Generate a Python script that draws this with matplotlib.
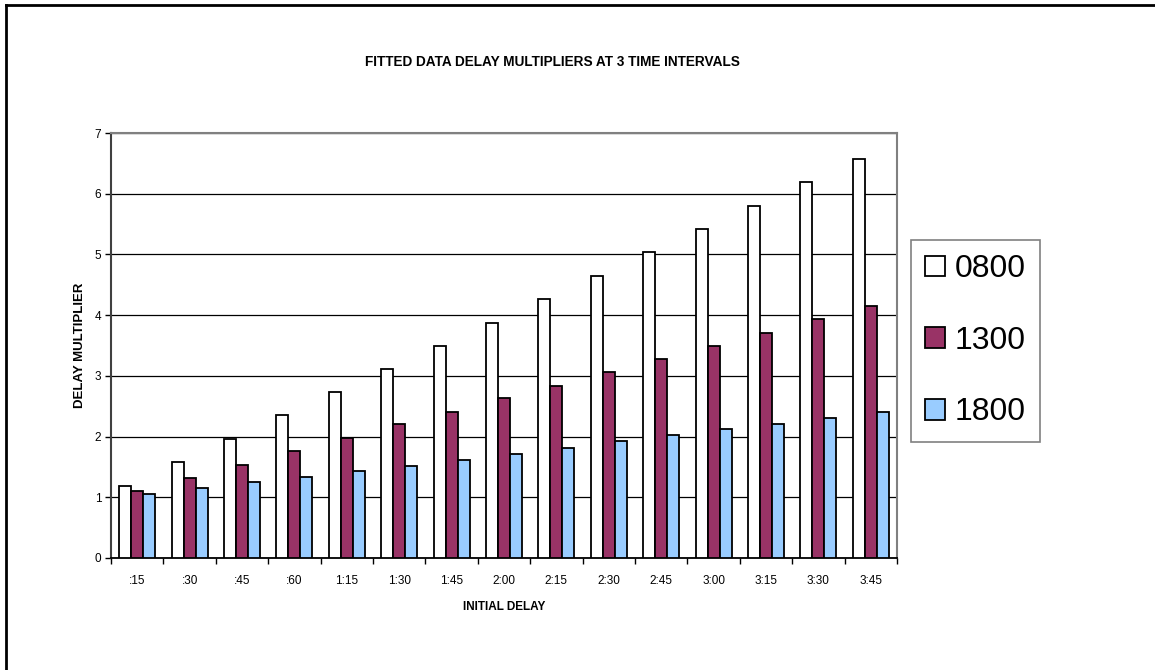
import numpy as np
import matplotlib
matplotlib.use("Agg")
import matplotlib.pyplot as plt
from matplotlib.lines import Line2D

plt.rcParams["font.family"] = ["Liberation Sans", "DejaVu Sans"]

# delay multipliers per initial delay, fitted at three times of day
categories = [":15", ":30", ":45", ":60", "1:15", "1:30", "1:45", "2:00",
              "2:15", "2:30", "2:45", "3:00", "3:15", "3:30", "3:45"]
series_names = ["0800", "1300", "1800"]
mult_0800 = [1.19, 1.58, 1.96, 2.35, 2.73, 3.11, 3.49, 3.87,
             4.27, 4.65, 5.04, 5.42, 5.80, 6.19, 6.57]
mult_1300 = [1.11, 1.32, 1.53, 1.76, 1.97, 2.20, 2.41, 2.63,
             2.84, 3.06, 3.28, 3.49, 3.71, 3.93, 4.15]
mult_1800 = [1.05, 1.15, 1.25, 1.34, 1.43, 1.52, 1.62, 1.72,
             1.82, 1.92, 2.02, 2.12, 2.21, 2.31, 2.41]
colors = ["#FFFFFF", "#993366", "#99CCFF"]

fig = plt.figure(figsize=(11.55, 6.70), dpi=100)
ax = fig.add_axes([111 / 1155, 1 - 558 / 670, 786 / 1155, 425 / 670])

x = np.arange(len(categories))
w = 0.23
for i, (vals, c, name) in enumerate(zip([mult_0800, mult_1300, mult_1800], colors, series_names)):
    ax.bar(x + (i - 1) * w, vals, width=w, color=c, edgecolor="black",
           linewidth=1.3, label=name, zorder=3)

ax.set_xlim(-0.5, len(categories) - 0.5)
ax.set_ylim(0, 7)
ax.set_yticks(range(8))
ax.yaxis.grid(True, color="black", linewidth=0.9, zorder=0)
ax.set_xticks(x)
ax.set_xticklabels(categories, fontsize=8.5)
ax.set_xticks(np.arange(-0.5, len(categories)), minor=True)
ax.tick_params(axis="x", which="major", length=0, pad=12)
ax.tick_params(axis="x", which="minor", length=4, width=1, direction="out")
ax.tick_params(axis="y", length=4, width=1, labelsize=8.5, pad=3)

for side in ["top", "right"]:
    ax.spines[side].set_color("#808080")
    ax.spines[side].set_linewidth(1.5)
ax.spines["left"].set_color("#404040")
ax.spines["left"].set_linewidth(1.5)
ax.spines["bottom"].set_color("black")
ax.spines["bottom"].set_linewidth(1.3)

ax.set_xlabel("INITIAL DELAY", fontsize=8.5, fontweight="bold", labelpad=10)
ax.set_ylabel("DELAY MULTIPLIER", fontsize=9.5, fontweight="bold", labelpad=6)
fig.text(552 / 1155, 1 - 62 / 670, "FITTED DATA DELAY MULTIPLIERS AT 3 TIME INTERVALS",
         ha="center", va="center", fontsize=9.8, fontweight="bold")

handles = [plt.Rectangle((0, 0), 1, 1, facecolor=c, edgecolor="black", linewidth=1.3)
           for c in colors]
leg = fig.legend(handles, series_names, loc="upper left",
                 bbox_to_anchor=(911 / 1155, 1 - 240 / 670), borderaxespad=0,
                 fontsize=23, handlelength=0.62, handleheight=0.62, handletextpad=0.3,
                 labelspacing=1.3, borderpad=0.45, frameon=True, fancybox=False)
leg.get_frame().set_edgecolor("#606060")
leg.get_frame().set_linewidth(1.2)

# outer chart frame
fig.add_artist(Line2D([6 / 1155, 6 / 1155], [0, 1 - 5 / 670], color="black", lw=2,
                      transform=fig.transFigure))
fig.add_artist(Line2D([6 / 1155, 1], [1 - 5 / 670, 1 - 5 / 670], color="black", lw=2,
                      transform=fig.transFigure))

fig.savefig("out.png", dpi=100)
